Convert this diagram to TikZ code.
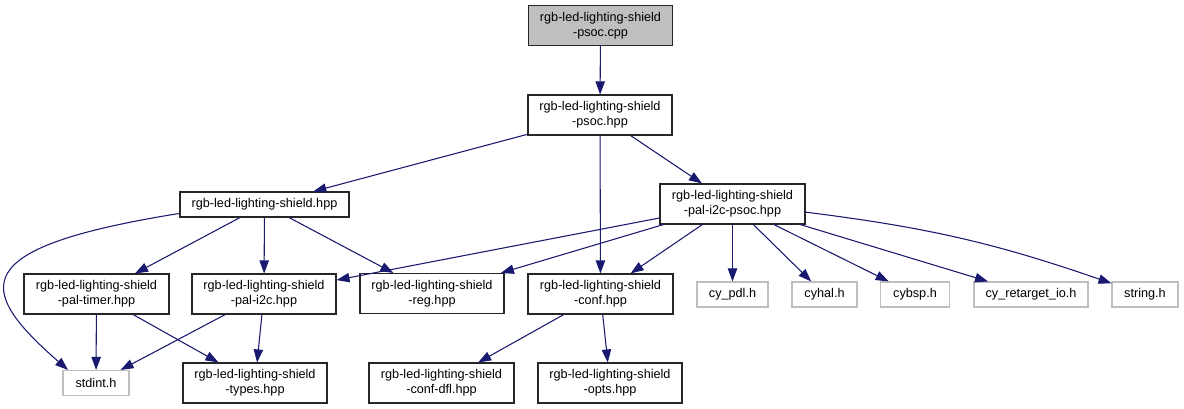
\documentclass[tikz,border=0pt]{standalone}
\usepackage{fontspec}
\setmainfont{Liberation Sans}
\usetikzlibrary{arrows.meta}
\definecolor{navyedge}{HTML}{191970}
\definecolor{graybox}{HTML}{BFBFBF}

\begin{document}
\begin{tikzpicture}[x=0.75pt, y=-0.75pt,
    >={Triangle[length=9.75pt,width=7pt]},
    file/.style 2 args={draw=black!85, fill=white, minimum width=#1*0.75pt, minimum height=#2*0.75pt},
    sysfile/.style={file={#1}{25}, draw=graybox}]
      \useasboundingbox[fill=white] (0,0) rectangle (1184,409);
      \begin{scope}[every node/.style={line width=0.8pt, inner sep=0pt, align=center,
          font=\fontsize{9.5}{11.25}\selectfont}]
        \node (cpp) [file={144}{40}, fill=graybox] at (600.5,25.5) {rgb-led-lighting-shield\\-psoc.cpp};
        \node (psoc) [file={144}{40}] at (600,115) {rgb-led-lighting-shield\\-psoc.hpp};
        \node (shield) [file={169}{25}] at (264.5,204.5) {rgb-led-lighting-shield.hpp};
        \node (i2cpsoc) [file={145}{40}] at (732.5,204) {rgb-led-lighting-shield\\-pal-i2c-psoc.hpp};
        \node (timer) [file={145}{40}] at (96.5,294) {rgb-led-lighting-shield\\-pal-timer.hpp};
        \node (i2c) [file={144}{40}] at (264,294) {rgb-led-lighting-shield\\-pal-i2c.hpp};
        \node (reg) [file={144}{40}] at (432,293.5) {rgb-led-lighting-shield\\-reg.hpp};
        \node (conf) [file={145}{40}] at (600.5,294) {rgb-led-lighting-shield\\-conf.hpp};
        \node (pdl) [sysfile=71] at (732.5,294.5) {cy\_pdl.h};
        \node (hal) [sysfile=65] at (824.5,294.5) {cyhal.h};
        \node (bsp) [sysfile=69] at (915,294.5) {cybsp.h};
        \node (retarget) [sysfile=114] at (1031,294.5) {cy\_retarget\_io.h};
        \node (string) [sysfile=66] at (1145,294.5) {string.h};
        \node (stdint) [sysfile=66] at (96,383) {stdint.h};
        \node (types) [file={144}{40}] at (255,383) {rgb-led-lighting-shield\\-types.hpp};
        \node (dfl) [file={145}{40}] at (441.5,383) {rgb-led-lighting-shield\\-conf-dfl.hpp};
        \node (opts) [file={144}{40}] at (610,383) {rgb-led-lighting-shield\\-opts.hpp};
      \end{scope}
      \begin{scope}
        [every edge/.style={draw=navyedge, line width=0.8pt}]
        \path[->] (cpp) edge (psoc);
        \path[->] (psoc) edge (shield);
        \path[->] (psoc) edge (conf);
        \path[->] (psoc) edge (i2cpsoc);
        \path[->] (shield) edge (timer);
        \path[->] (shield) edge (i2c);
        \path[->] (shield) edge (reg);
        \draw[->, draw=navyedge, line width=0.8pt] (shield.186)
          .. controls +(-212,34) and +(-94,-82) .. (stdint.155);
        \path[->] (i2cpsoc) edge (i2c);
        \path[->] (i2cpsoc) edge (reg);
        \path[->] (i2cpsoc) edge (conf);
        \path[->] (i2cpsoc) edge (pdl);
        \path[->] (i2cpsoc) edge (hal);
        \path[->] (i2cpsoc) edge (bsp);
        \path[->] (i2cpsoc) edge (retarget);
        \path[->] (i2cpsoc) edge[bend left=6] (string);
        \path[->] (timer) edge (stdint);
        \path[->] (timer) edge (types);
        \path[->] (i2c) edge (stdint);
        \path[->] (i2c) edge (types);
        \path[->] (conf) edge (dfl);
        \path[->] (conf) edge (opts);
      \end{scope}
    \end{tikzpicture}
\end{document}
